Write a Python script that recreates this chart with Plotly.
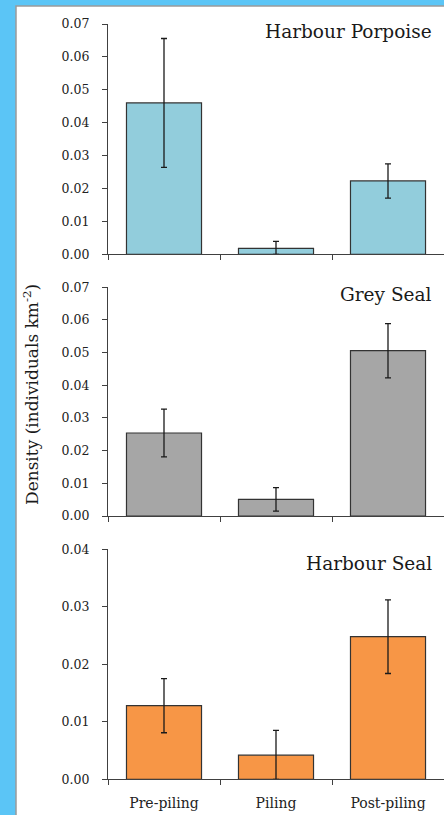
import plotly.graph_objects as go

categories = ["Pre-piling", "Piling", "Post-piling"]

porpoise_vals = [0.0460, 0.0018, 0.0223]
porpoise_err = [0.0196, 0.0021, 0.0052]

grey_vals = [0.0254, 0.0051, 0.0506]
grey_err = [0.0073, 0.0036, 0.0083]

hseal_vals = [0.0128, 0.0042, 0.0248]
hseal_err = [0.0047, 0.0043, 0.0064]

titles = ["Harbour Porpoise", "Grey Seal", "Harbour Seal"]
colors = ["#92CDDC", "#A6A6A6", "#F79646"]
y_max = [0.07, 0.07, 0.04]
y_label = "Density (individuals km<sup>-2</sup>)"

W, H = 444, 815
FONT = "DejaVu Serif"

# pixel geometry of each panel: (top px, bottom px)
panels_px = [(24, 254.3), (287.3, 516), (549.3, 779.3)]
x_left_px = 108

fig = go.Figure()
series = [(porpoise_vals, porpoise_err), (grey_vals, grey_err), (hseal_vals, hseal_err)]

layout_axes = {}
for i, ((vals, err), col, ymax, (ptop, pbot)) in enumerate(zip(series, colors, y_max, panels_px)):
    n = i + 1
    xa = "x" if n == 1 else f"x{n}"
    ya = "y" if n == 1 else f"y{n}"
    minus = [min(e, v) for e, v in zip(err, vals)]
    fig.add_trace(go.Bar(
        x=categories, y=vals, xaxis=xa, yaxis=ya,
        marker=dict(color=col, line=dict(color="#333333", width=1.2)),
        width=0.67,
        error_y=dict(type="data", array=err, arrayminus=minus, symmetric=False,
                     color="#1a1a1a", thickness=1.3, width=3),
        showlegend=False,
    ))
    dom = [(H - pbot) / H, (H - ptop) / H]
    layout_axes[("xaxis" if n == 1 else f"xaxis{n}")] = dict(
        domain=[x_left_px / W, 1.0], anchor=ya, type="category",
        range=[-0.5, 2.5], showline=True, linecolor="#404040", linewidth=1.2,
        ticks="outside", tickson="boundaries", ticklen=5, tickcolor="#404040",
        showticklabels=(n == 3), showgrid=False, zeroline=False,
        tickfont=dict(family=FONT, size=14, color="#222222"),
        ticklabelstandoff=11, automargin=False,
    )
    layout_axes[("yaxis" if n == 1 else f"yaxis{n}")] = dict(
        domain=dom, anchor=xa, range=[0, ymax], dtick=0.01, tickformat=".2f",
        showline=True, linecolor="#404040", linewidth=1.2,
        ticks="outside", ticklen=5, tickcolor="#404040",
        showgrid=False, zeroline=False,
        tickfont=dict(family=FONT, size=12.5, color="#222222"),
        ticklabelstandoff=10, automargin=False,
    )

annotations = []
title_px = [31, 294, 563]
for t, ty in zip(titles, title_px):
    annotations.append(dict(text=t, xref="paper", yref="paper", x=434 / W, y=(H - ty) / H,
                            xanchor="right", yanchor="middle", showarrow=False,
                            font=dict(family=FONT, size=18.5, color="#1a1a1a")))
annotations.append(dict(text=y_label, xref="paper", yref="paper", x=31 / W, y=(H - 395) / H,
                        xanchor="center", yanchor="middle", textangle=-90, showarrow=False,
                        font=dict(family=FONT, size=17, color="#1a1a1a")))

shapes = [
    dict(type="rect", xref="paper", yref="paper", x0=16 / W, x1=1.01, y0=-0.01, y1=(H - 6) / H,
         fillcolor="white", line=dict(color="#9a9a9a", width=1.5), layer="below"),
]

fig.update_layout(
    width=W, height=H,
    margin=dict(l=0, r=0, t=0, b=0),
    paper_bgcolor="#5BC5F6", plot_bgcolor="rgba(0,0,0,0)",
    annotations=annotations, shapes=shapes,
    bargap=0.33,
    **layout_axes,
)

fig.write_html(
    "out.html",
    config={"displayModeBar": False},
    post_script="document.body.style.margin='0';document.body.style.overflow='hidden';",
)
